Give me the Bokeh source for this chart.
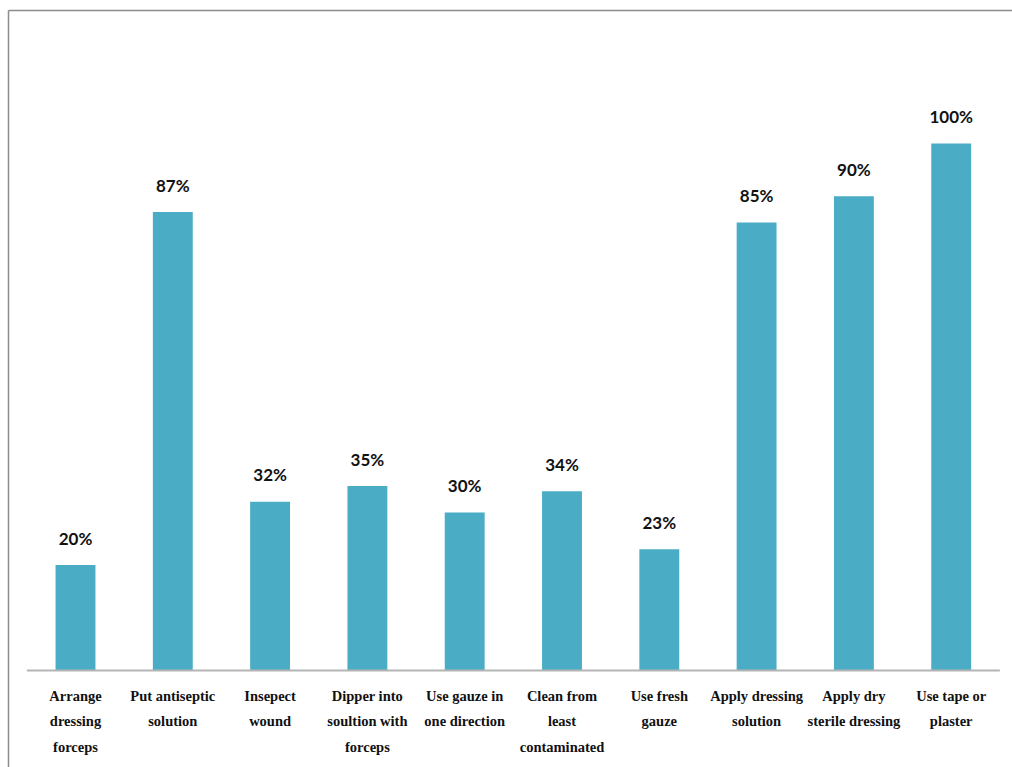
import numpy as np
from bokeh.plotting import figure
from bokeh.models import Range1d, ColumnDataSource
from bokeh.core.properties import value
from bokeh.embed import file_html
from bokeh.resources import INLINE

categories = [
    "Arrange\ndressing\nforceps",
    "Put antiseptic\nsolution",
    "Insepect\nwound",
    "Dipper into\nsoultion with\nforceps",
    "Use gauze in\none direction",
    "Clean from\nleast\ncontaminated",
    "Use fresh\ngauze",
    "Apply dressing\nsolution",
    "Apply dry\nsterile dressing",
    "Use tape or\nplaster",
]
percent = [20, 87, 32, 35, 30, 34, 23, 85, 90, 100]
labels = [f"{v}%" for v in percent]

W, H = 1012, 767
# pixel mapping
px_per_cat = 97.3
first_center_px = 75.0
zero_px = 670.0
px_per_unit = 5.27

x0 = -first_center_px / px_per_cat
x1 = x0 + W / px_per_cat
y1 = zero_px / px_per_unit
y0 = y1 - H / px_per_unit

xs = np.arange(len(categories))
src = ColumnDataSource(dict(x=xs, top=percent, lab=labels, cat=categories))

p = figure(width=W, height=H, output_backend="svg", toolbar_location=None,
           x_range=Range1d(x0, x1), y_range=Range1d(y0, y1),
           min_border=0, min_border_left=0, min_border_right=0,
           min_border_top=0, min_border_bottom=0)
p.axis.visible = False
p.grid.visible = False
p.outline_line_color = None
p.background_fill_color = "white"
p.border_fill_color = "white"

# outer frame (left and top edges visible)
bx = x0 + 8 / px_per_cat
by = y1 - 10 / px_per_unit
p.segment(x0=[bx, bx], y0=[by, by], x1=[bx, x1 + 1], y1=[y0 - 1, by],
          line_color="#8c8c8c", line_width=1.5)

p.vbar(x="x", top="top", bottom=0, width=0.41, source=src,
       fill_color="#4BACC6", line_color=None)

# baseline
p.segment(x0=[-0.5], y0=[0], x1=[len(categories) - 0.5], y1=[0],
          line_color="#b4b4b4", line_width=2)

p.text(x="x", y="top", text="lab", source=src, text_align="center",
       text_baseline="alphabetic", y_offset=-27,
       text_font=value("Lato"), text_font_style="bold",
       text_font_size="17px", text_color="#111111")

p.text(x="x", y=0, text="cat", source=src, text_align="center",
       text_baseline="top", y_offset=17, text_line_height=1.6,
       text_font=value("Liberation Serif"), text_font_style="bold",
       text_font_size="14.5px", text_color="#111111")

open("out.html", "w").write(file_html(p, INLINE))
